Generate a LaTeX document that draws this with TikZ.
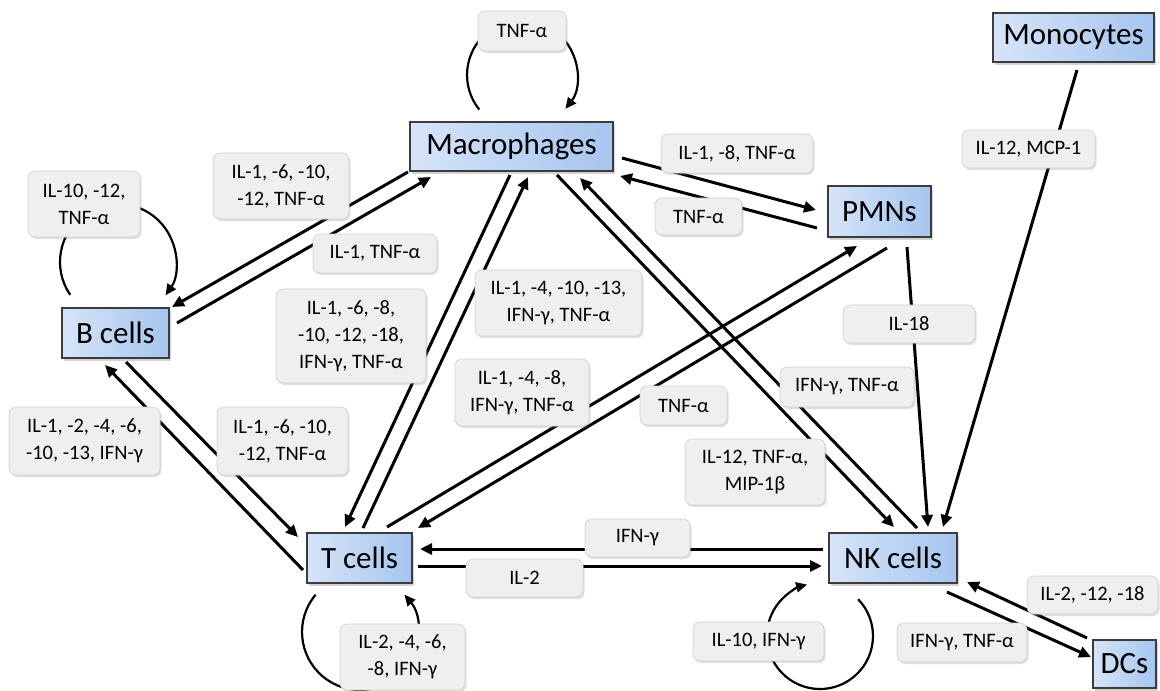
\documentclass[tikz,border=0pt]{standalone}
\usepackage{fontspec}
\setmainfont{Carlito}
\usetikzlibrary{arrows.meta,shadows,calc}
\definecolor{cellL}{HTML}{D6E4F8}
\definecolor{cellR}{HTML}{A6C5EF}
\definecolor{cellB}{HTML}{3C3C3C}
\definecolor{labF}{HTML}{EFEFEF}
\definecolor{labB}{HTML}{D0D0D0}
\begin{document}
\begin{tikzpicture}[x=1pt,y=1pt,
 cell/.style={draw=cellB, line width=1.3pt, left color=cellL, right color=cellR, inner sep=0pt,
   font=\fontsize{31}{36}\selectfont, drop shadow={shadow xshift=2pt,shadow yshift=-2.5pt,opacity=0.35}},
 lab/.style={draw=labB, line width=0.6pt, fill=labF, rounded corners=7pt, inner sep=0pt, align=center,
   font=\fontsize{20.5}{27}\selectfont, drop shadow={shadow xshift=1.5pt,shadow yshift=-2pt,opacity=0.25}},
 conn/.style={line width=3pt, -{Triangle[length=12pt,width=11pt]}},
 loopc/.style={line width=2.2pt, -{Triangle[length=11pt,width=10pt]}}]
\useasboundingbox (0,0) rectangle (1160,-691);

% cells
\node[cell, minimum width=203pt, minimum height=49pt] (mac) at (511.5,-146.5) {Macrophages};
\node[cell, minimum width=161pt, minimum height=49pt] (mono) at (1073.5,-37.5) {Monocytes};
\node[cell, minimum width=103pt, minimum height=51pt] (pmn) at (879.5,-211.5) {PMNs};
\node[cell, minimum width=107pt, minimum height=50pt] (bcell) at (115.5,-333) {B cells};
\node[cell, minimum width=105pt, minimum height=50pt] (tcell) at (359.5,-558) {T cells};
\node[cell, minimum width=128pt, minimum height=50pt] (nk) at (893,-558) {NK cells};
\node[cell, minimum width=63pt, minimum height=48pt] (dc) at (1124.5,-664) {DCs};

% connectors
\draw[conn] ([shift={(-103.5,-25.5)}]mac.center) -- ([shift={(56.5,26)}]bcell.center);
\draw[conn] ([shift={(61.5,10)}]bcell.center) -- ([shift={(-80.5,-30.5)}]mac.center);
\draw[conn] ([shift={(-1.5,-28.5)}]mac.center) -- ([shift={(-14.5,31)}]tcell.center);
\draw[conn] ([shift={(3.5,30)}]tcell.center) -- ([shift={(16.5,-30.5)}]mac.center);
\draw[conn] ([shift={(45.5,-28.5)}]mac.center) -- ([shift={(1,31)}]nk.center);
\draw[conn] ([shift={(24,30)}]nk.center) -- ([shift={(68.5,-31.5)}]mac.center);
\draw[conn] ([shift={(110.5,-11.5)}]mac.center) -- ([shift={(-63.5,1.5)}]pmn.center);
\draw[conn] ([shift={(-62.5,-16.5)}]pmn.center) -- ([shift={(108.5,-29.5)}]mac.center);
\draw[conn] ([shift={(27.5,31)}]tcell.center) -- ([shift={(-22.5,-34.5)}]pmn.center);
\draw[conn] ([shift={(7.5,-36.5)}]pmn.center) -- ([shift={(58.5,30)}]tcell.center);
\draw[conn] ([shift={(27.5,-35.5)}]pmn.center) -- ([shift={(35,31)}]nk.center);
\draw[conn] ([shift={(3.5,-32.5)}]mono.center) -- ([shift={(50,31)}]nk.center);
\draw[conn] ([shift={(-70,9)}]nk.center) -- ([shift={(60.5,9)}]tcell.center);
\draw[conn] ([shift={(58.5,-8)}]tcell.center) -- ([shift={(-71,-8)}]nk.center);
\draw[conn] ([shift={(10.5,-29)}]bcell.center) -- ([shift={(-61.5,21)}]tcell.center);
\draw[conn] ([shift={(-56.5,-12)}]tcell.center) -- ([shift={(-10.5,-32)}]bcell.center);
\draw[conn] ([shift={(54,-34)}]nk.center) -- ([shift={(-33.5,7)}]dc.center);
\draw[conn] ([shift={(-37.5,26)}]dc.center) -- ([shift={(74,-24)}]nk.center);

% self loops
\draw[loopc] ([shift={(-32.2,36.9)}]mac.center) arc[start angle=219,end angle=-38,radius=55pt];
\draw[loopc] ([shift={(-45.3,38.2)}]bcell.center) arc[start angle=214.5,end angle=-35,radius=58pt];
\draw[loopc] ([shift={(-43.9,-36.7)}]tcell.center) arc[start angle=140,end angle=400,radius=58pt];
\draw[loopc] ([shift={(-34.9,-41.2)}]nk.center) arc[start angle=44,end angle=-256,radius=53pt];

% labels
\node[lab, minimum width=88pt, minimum height=40pt] (l1) at (522,-31) {TNF-α};
\node[lab, minimum width=152pt, minimum height=39pt] (l2) at (737,-153.5) {IL-1, -8, TNF-α};
\node[lab, minimum width=87pt, minimum height=37pt] (l3) at (698.5,-216.5) {TNF-α};
\node[lab, minimum width=136pt, minimum height=66pt] (l4) at (281,-186) {IL-1, -6, -10,\\-12, TNF-α};
\node[lab, minimum width=124pt, minimum height=39pt] (l5) at (375,-253.5) {IL-1, TNF-α};
\node[lab, minimum width=112pt, minimum height=66pt] (l6) at (84,-204) {IL-10, -12,\\TNF-α};
\node[lab, minimum width=150pt, minimum height=94pt] (l7) at (351,-336) {IL-1, -6, -8,\\-10, -12, -18,\\IFN-γ, TNF-α};
\node[lab, minimum width=167pt, minimum height=66pt] (l8) at (558.5,-303) {IL-1, -4, -10, -13,\\IFN-γ, TNF-α};
\node[lab, minimum width=134pt, minimum height=67pt] (l9) at (522,-392.5) {IL-1, -4, -8,\\IFN-γ, TNF-α};
\node[lab, minimum width=151pt, minimum height=68pt] (l10) at (84.5,-441) {IL-1, -2, -4, -6,\\-10, -13, IFN-γ};
\node[lab, minimum width=131pt, minimum height=68pt] (l11) at (282.5,-441) {IL-1, -6, -10,\\-12, TNF-α};
\node[lab, minimum width=132pt, minimum height=38pt] (l12) at (909,-324) {IL-18};
\node[lab, minimum width=134pt, minimum height=40pt] (l13) at (847,-387) {IFN-γ, TNF-α};
\node[lab, minimum width=87pt, minimum height=39pt] (l14) at (683.5,-405.5) {TNF-α};
\node[lab, minimum width=140pt, minimum height=66pt] (l15) at (755,-472) {IL-12, TNF-α,\\MIP-1β};
\node[lab, minimum width=105pt, minimum height=38pt] (l16) at (637.5,-538) {IFN-γ};
\node[lab, minimum width=117pt, minimum height=38pt] (l17) at (524.5,-578) {IL-2};
\node[lab, minimum width=125pt, minimum height=66pt] (l18) at (402.5,-657) {IL-2, -4, -6,\\-8, IFN-γ};
\node[lab, minimum width=131pt, minimum height=39pt] (l19) at (758.5,-641.5) {IL-10, IFN-γ};
\node[lab, minimum width=131pt, minimum height=38pt] (l20) at (1092.5,-595) {IL-2, -12, -18};
\node[lab, minimum width=130pt, minimum height=39pt] (l21) at (962,-642.5) {IFN-γ, TNF-α};
\node[lab, minimum width=133pt, minimum height=38pt] (l22) at (1028.5,-149) {IL-12, MCP-1};
\end{tikzpicture}
\end{document}
